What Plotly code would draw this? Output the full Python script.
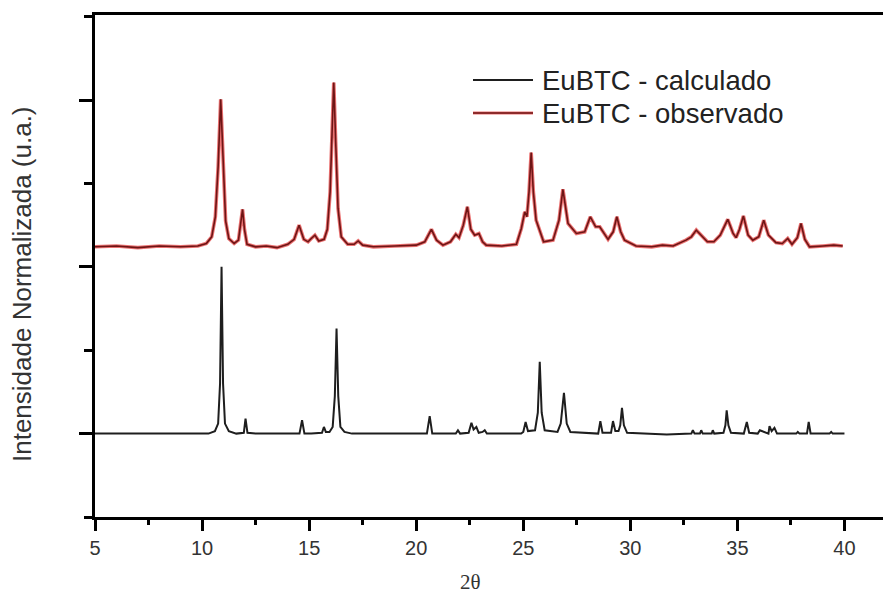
import plotly.graph_objects as go

# ---- data ----
calc_2theta = [5.0, 8.0, 10.3, 10.6, 10.75, 10.84, 10.91, 10.98, 11.07, 11.25, 11.6,
               11.95, 12.03, 12.12, 12.5, 14.55, 14.67, 14.78, 15.1, 15.6, 15.69, 15.78,
               15.95, 16.1, 16.2, 16.28, 16.36, 16.46, 16.65, 17.0, 20.5, 20.63, 20.75,
               21.0, 21.85, 21.95, 22.05, 22.45, 22.58, 22.68, 22.81, 22.92, 23.1, 23.2,
               23.3, 24.9, 25.0, 25.11, 25.22, 25.55, 25.68, 25.77, 25.86, 26.0, 26.6,
               26.75, 26.9, 27.03, 27.2, 28.5, 28.6, 28.7, 29.1, 29.19, 29.3, 29.45,
               29.53, 29.61, 29.7, 29.85, 30.5, 31.7, 32.85, 32.92, 33.0, 33.25, 33.31,
               33.38, 33.8, 33.85, 33.92, 34.35, 34.44, 34.5, 34.58, 34.7, 35.3, 35.44,
               35.55, 35.95, 36.05, 36.45, 36.5, 36.6, 36.73, 36.85, 37.75, 37.82, 37.9,
               38.25, 38.33, 38.42, 39.3, 39.38, 39.45, 40.0]
calc_int = [1.0, 1.0, 1.0, 1.03, 1.12, 1.6, 3.0, 1.6, 1.12, 1.03, 1.0,
            1.01, 1.18, 1.01, 1.0, 1.0, 1.16, 1.0, 1.0, 1.01, 1.08, 1.02,
            1.02, 1.08, 1.45, 2.26, 1.45, 1.08, 1.02, 1.0, 1.0, 1.21, 1.0,
            1.0, 1.0, 1.04, 1.0, 1.01, 1.13, 1.05, 1.08, 1.01, 1.02, 1.04,
            1.0, 1.0, 1.02, 1.14, 1.03, 1.04, 1.25, 1.86, 1.25, 1.04, 1.02,
            1.12, 1.49, 1.12, 1.02, 1.0, 1.15, 1.01, 1.01, 1.15, 1.03, 1.03,
            1.1, 1.31, 1.1, 1.01, 1.0, 0.99, 1.0, 1.04, 1.0, 1.0, 1.04,
            1.0, 1.0, 1.04, 1.0, 1.01, 1.1, 1.28, 1.1, 1.01, 1.0, 1.14,
            1.01, 1.0, 1.04, 1.0, 1.09, 1.03, 1.07, 1.0, 1.0, 1.02, 1.0,
            1.0, 1.14, 1.0, 1.0, 1.02, 1.0, 1.0]

obs_2theta = [5.0, 6.0, 7.0, 8.0, 9.0, 9.8, 10.2, 10.45, 10.62, 10.75, 10.87, 10.97,
              11.1, 11.25, 11.5, 11.7, 11.8, 11.89, 11.98, 12.1, 12.5, 13.0, 13.5,
              14.0, 14.3, 14.53, 14.75, 14.95, 15.1, 15.27, 15.45, 15.7, 15.85, 15.98,
              16.07, 16.15, 16.24, 16.35, 16.5, 16.8, 17.1, 17.29, 17.5, 18.0, 19.0,
              20.0, 20.4, 20.71, 20.95, 21.25, 21.6, 21.85, 22.0, 22.2, 22.39, 22.55,
              22.73, 22.93, 23.1, 23.27, 24.0, 24.68, 24.91, 25.07, 25.17, 25.27,
              25.37, 25.47, 25.6, 25.95, 26.39, 26.67, 26.85, 27.09, 27.48, 27.87,
              28.13, 28.38, 28.57, 28.96, 29.2, 29.37, 29.55, 29.73, 30.27, 31.0,
              31.5, 32.0, 32.6, 32.85, 33.08, 33.3, 33.6, 33.9, 34.2, 34.55, 34.8,
              34.94, 35.1, 35.28, 35.5, 35.72, 36.0, 36.23, 36.45, 36.8, 37.1, 37.35,
              37.55, 37.8, 37.97, 38.15, 38.37, 39.0, 39.5, 39.92]
obs_int = [3.24, 3.25, 3.23, 3.25, 3.24, 3.25, 3.28, 3.36, 3.6, 4.2, 5.01, 4.3,
           3.55, 3.34, 3.28, 3.32, 3.5, 3.69, 3.45, 3.27, 3.24, 3.25, 3.23,
           3.27, 3.33, 3.5, 3.33, 3.3, 3.34, 3.38, 3.31, 3.33, 3.45, 3.9,
           4.6, 5.21, 4.5, 3.7, 3.36, 3.27, 3.27, 3.31, 3.26, 3.24, 3.25,
           3.26, 3.3, 3.45, 3.32, 3.26, 3.3, 3.39, 3.35, 3.5, 3.72, 3.45,
           3.38, 3.4, 3.3, 3.26, 3.25, 3.27, 3.46, 3.66, 3.6, 3.9,
           4.37, 3.9, 3.56, 3.3, 3.32, 3.56, 3.93, 3.52, 3.4, 3.42,
           3.6, 3.48, 3.48, 3.33, 3.42, 3.6, 3.42, 3.32, 3.25, 3.24,
           3.26, 3.25, 3.32, 3.36, 3.44, 3.38, 3.3, 3.3, 3.38, 3.57, 3.4,
           3.35, 3.45, 3.61, 3.38, 3.32, 3.36, 3.56, 3.38, 3.29, 3.28, 3.34,
           3.27, 3.35, 3.52, 3.33, 3.24, 3.25, 3.26, 3.25]

series_names = ["EuBTC - calculado", "EuBTC - observado"]
x_ticks = [5, 10, 15, 20, 25, 30, 35, 40]
y_major_ticks = [1, 3, 5]
x_title = "2θ"
y_title = "Intensidade Normalizada (u.a.)"

CALC_COLOR = "#1e1e1e"
OBS_HALO = "rgba(222,38,38,0.65)"
OBS_CORE = "#6e1515"

W, H = 883, 593
ML, MR, MT, MB = 95, 0, 15, 76
PW, PH = W - ML - MR, H - MT - MB


def px_x(p):  # pixel -> paper x
    return (p - ML) / PW


def px_y(p):  # pixel -> paper y
    return (H - MB - p) / PH


fig = go.Figure()
fig.add_trace(go.Scatter(x=calc_2theta, y=calc_int, mode="lines", name=series_names[0],
                         line=dict(color=CALC_COLOR, width=2)))
fig.add_trace(go.Scatter(x=obs_2theta, y=obs_int, mode="lines", hoverinfo="skip",
                         line=dict(color=OBS_HALO, width=3.6)))
fig.add_trace(go.Scatter(x=obs_2theta, y=obs_int, mode="lines", name=series_names[1],
                         line=dict(color=OBS_CORE, width=1.6)))

# legend drawn as line samples + labels
legend_rows = [80, 113]
shapes = [
    dict(type="line", xref="paper", yref="paper", x0=px_x(473), x1=px_x(533),
         y0=px_y(legend_rows[0]), y1=px_y(legend_rows[0]),
         line=dict(color=CALC_COLOR, width=1.8)),
    dict(type="line", xref="paper", yref="paper", x0=px_x(473), x1=px_x(533),
         y0=px_y(legend_rows[1]), y1=px_y(legend_rows[1]),
         line=dict(color=OBS_HALO, width=3.2)),
    dict(type="line", xref="paper", yref="paper", x0=px_x(473), x1=px_x(533),
         y0=px_y(legend_rows[1]), y1=px_y(legend_rows[1]),
         line=dict(color=OBS_CORE, width=1.4)),
]
annotations = [
    dict(text=series_names[i], xref="paper", yref="paper", x=px_x(540),
         y=px_y(legend_rows[i]), showarrow=False, xanchor="left", yanchor="middle",
         font=dict(size=27.5, color="#222222",
                   family="Liberation Sans, Arial, sans-serif"))
    for i in range(2)
]
annotations += [
    dict(text=y_title, xref="paper", yref="paper", x=px_x(22), y=px_y(284),
         showarrow=False, textangle=-90,
         font=dict(size=26, color="#333333", family="Liberation Sans, Arial, sans-serif"),
         xanchor="center", yanchor="middle"),
    dict(text=x_title, xref="paper", yref="paper", x=px_x(470), y=px_y(582),
         showarrow=False,
         font=dict(size=21, color="#333333",
                   family="Liberation Serif, Times New Roman, serif"),
         xanchor="center", yanchor="middle"),
]

fig.update_layout(
    width=W, height=H,
    margin=dict(l=ML, r=MR, t=MT, b=MB, autoexpand=False),
    paper_bgcolor="white", plot_bgcolor="white",
    font=dict(family="Liberation Sans, Arial, sans-serif", color="#333333"),
    showlegend=False,
    xaxis=dict(range=[5, 41.8], tickvals=x_ticks, ticks="outside", ticklen=11,
               tickwidth=3, tickcolor="black", showline=True, linecolor="black",
               linewidth=3, mirror=True, showgrid=False, zeroline=False,
               tickfont=dict(size=20, color="#333333"),
               minor=dict(dtick=2.5, tick0=5, ticks="outside", ticklen=5,
                          tickwidth=3, tickcolor="black", showgrid=False)),
    yaxis=dict(range=[0, 6.02], tickvals=y_major_ticks, ticks="outside", ticklen=13,
               tickwidth=3, tickcolor="black", showline=True, linecolor="black",
               linewidth=3, showticklabels=False, showgrid=False, zeroline=False,
               minor=dict(dtick=1, tick0=0, ticks="outside", ticklen=8,
                          tickwidth=3, tickcolor="black", showgrid=False)),
    shapes=shapes,
    annotations=annotations,
)

fig.write_html("out.html",
               config={"displayModeBar": False},
               post_script="document.body.style.margin='0px';"
                           "document.body.style.overflow='hidden';")
